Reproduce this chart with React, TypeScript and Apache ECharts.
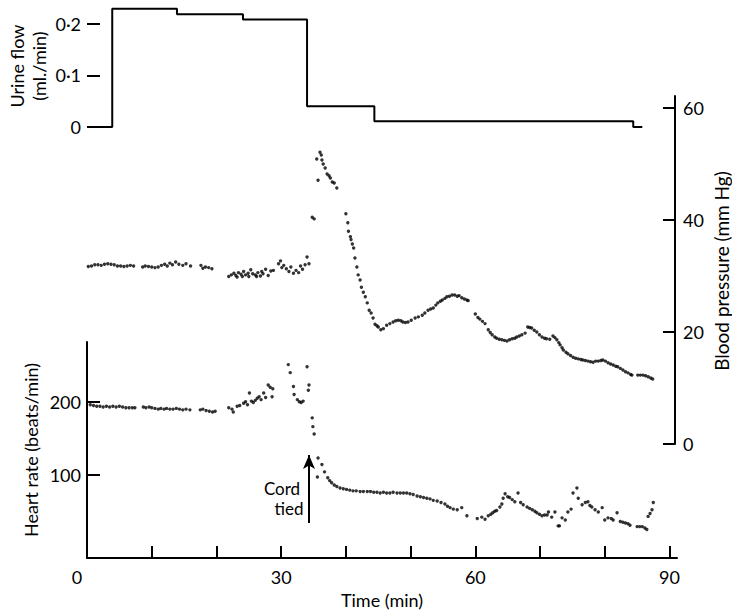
import React, { useEffect, useRef } from "react";
import * as echarts from "echarts";

// Urine flow (ml./min): step boundaries (min) and flow in each period
const urineEdges = [3.9, 13.9, 24.1, 34.0, 44.4, 84.4];
const urineFlow = [0.229, 0.218, 0.208, 0.04, 0.011];
const urineBaseEnd = 85.8;
const urineTicks = [0, 0.1, 0.2];

// Blood pressure (mm Hg) vs time (min)
const bloodPressure: [number, number][] = [
  [0.2, 31.7], [0.7, 31.8], [1.2, 32.0], [1.7, 32.0], [2.2, 31.9], [2.7, 32.1], [3.2, 32.2], [3.7, 32.1],
  [4.2, 32.0], [4.7, 31.8], [5.2, 31.8], [5.7, 31.7], [6.2, 31.8], [6.7, 31.9], [7.2, 31.8],
  [8.6, 31.6], [9.0, 31.8], [9.5, 31.7], [10.0, 31.6], [10.5, 31.5], [11.0, 31.6], [11.5, 31.9], [12.0, 32.1],
  [12.4, 31.8], [12.8, 32.3], [13.2, 32.0], [13.7, 32.5], [14.2, 32.1], [14.8, 31.9], [15.3, 32.2], [16.0, 31.8],
  [17.6, 31.9], [17.9, 31.4], [18.3, 31.6], [18.8, 31.5], [19.3, 31.3],
  [21.9, 29.9], [22.3, 30.2], [22.7, 30.5], [23.0, 30.1], [23.2, 29.8], [23.4, 30.6], [23.8, 30.3], [24.0, 29.9],
  [24.2, 30.8], [24.5, 30.2], [24.9, 30.5], [25.0, 29.9], [25.3, 31.1], [25.6, 30.4], [26.0, 30.2], [26.2, 29.9],
  [26.4, 30.6], [26.8, 30.0], [27.0, 30.8], [27.2, 30.4], [27.6, 31.2], [28.0, 30.1], [28.4, 30.9], [28.8, 31.0],
  [29.6, 32.2], [29.9, 32.7], [30.1, 31.5], [30.4, 31.9], [30.8, 31.3], [31.2, 30.8], [31.5, 31.6], [31.9, 30.5],
  [32.3, 31.0], [32.7, 30.6], [33.0, 31.8], [33.3, 31.2], [33.7, 32.0], [34.0, 33.4], [34.3, 32.2],
  [34.8, 40.5], [35.1, 40.2], [35.5, 50.9], [35.7, 47.1], [36.0, 52.1], [36.2, 51.6], [36.3, 50.7], [36.5, 50.0],
  [36.8, 49.3], [37.1, 48.2], [37.4, 47.9], [37.6, 47.5], [37.9, 46.8], [38.2, 46.6], [38.6, 45.7],
  [40.0, 41.1], [40.3, 39.5], [40.4, 38.0], [40.7, 37.0], [40.8, 36.5], [41.0, 35.7], [41.2, 35.0], [41.4, 33.2],
  [41.7, 31.6], [41.9, 30.2], [42.2, 29.3], [42.4, 28.0], [42.7, 27.1], [43.0, 26.3], [43.3, 25.2], [43.6, 23.9],
  [43.9, 23.4], [44.2, 22.5], [44.5, 21.4], [44.8, 21.1], [45.0, 20.9], [45.4, 20.4], [45.8, 20.6], [46.3, 21.2],
  [46.8, 21.5], [47.3, 21.8], [47.7, 22.0], [48.1, 22.1], [48.5, 22.0], [48.8, 21.8], [49.2, 21.7], [49.6, 21.8],
  [50.1, 22.1], [50.7, 22.5], [51.2, 22.7], [51.8, 23.0], [52.2, 23.4], [52.7, 23.9], [53.1, 24.1], [53.5, 24.3],
  [53.9, 24.8], [54.2, 25.2], [54.6, 25.5], [54.9, 25.7], [55.3, 26.0], [55.6, 26.3], [56.0, 26.4], [56.4, 26.6],
  [56.8, 26.6], [57.2, 26.4], [57.5, 26.5], [57.9, 26.1], [58.3, 25.9], [58.7, 25.7], [58.9, 25.6],
  [60.0, 23.2], [60.4, 22.6], [60.7, 22.3], [61.1, 21.9], [61.5, 21.5], [62.0, 20.4], [62.3, 19.9], [62.6, 19.5],
  [63.0, 19.1], [63.3, 18.9], [63.7, 18.7], [64.1, 18.6], [64.5, 18.5], [64.9, 18.4], [65.3, 18.6], [65.7, 18.8],
  [66.1, 18.9], [66.4, 19.1], [66.8, 19.3], [67.2, 19.5], [67.7, 19.8], [68.1, 20.9], [68.4, 20.8], [68.7, 20.7],
  [69.1, 20.3], [69.5, 20.0], [69.9, 19.5], [70.3, 19.1], [70.7, 18.9], [71.0, 18.8], [71.5, 18.7], [72.0, 19.3],
  [72.3, 19.0], [72.6, 18.6], [72.9, 18.1], [73.1, 17.7], [73.4, 17.2], [73.6, 16.8], [74.0, 16.4], [74.3, 16.1],
  [74.7, 15.8], [75.1, 15.5], [75.5, 15.3], [75.9, 15.2], [76.3, 15.1], [76.6, 15.0], [77.0, 14.9], [77.4, 14.8],
  [77.8, 14.7], [78.2, 14.6], [78.6, 14.8], [79.0, 14.8], [79.4, 14.9], [79.7, 15.0], [80.1, 14.8], [80.5, 14.5],
  [80.9, 14.3], [81.3, 14.1], [81.7, 13.9], [82.0, 13.8], [82.4, 13.5], [82.8, 13.2], [83.2, 12.9], [83.6, 12.7],
  [84.0, 12.4], [84.2, 12.3],
  [85.1, 12.3], [85.5, 12.3], [85.9, 12.3], [86.3, 12.2], [86.7, 12.0], [87.1, 11.8], [87.4, 11.6],
];

// Heart rate (beats/min) vs time (min)
const heartRate: [number, number][] = [
  [0.5, 196], [1.0, 195], [1.5, 194], [2.0, 194], [2.5, 193], [3.0, 194], [3.5, 193], [4.0, 194], [4.5, 193],
  [5.0, 194], [5.5, 193], [6.0, 192], [6.5, 192], [7.0, 192], [7.4, 192],
  [8.7, 193], [9.1, 192], [9.6, 193], [10.0, 192], [10.5, 191], [11.0, 190], [11.4, 191], [11.9, 190], [12.3, 191],
  [12.8, 190], [13.3, 190], [13.8, 191], [14.3, 190], [14.8, 189], [15.3, 190], [15.9, 189],
  [17.5, 189], [17.9, 190], [18.4, 188], [18.9, 187], [19.4, 186], [19.8, 187],
  [21.9, 192], [22.4, 190], [22.6, 186], [23.2, 194], [23.6, 195], [24.2, 198], [24.5, 200], [24.8, 196],
  [25.1, 212], [25.4, 201], [25.7, 199], [26.0, 202], [26.3, 205], [26.6, 207], [26.9, 203], [27.3, 212],
  [27.6, 206], [28.0, 223], [28.3, 220], [28.6, 207], [28.7, 218],
  [31.1, 251], [31.4, 240], [31.9, 221], [32.0, 210], [32.5, 203], [32.8, 200], [33.1, 199], [33.4, 201],
  [34.0, 248], [34.2, 216], [34.3, 223], [34.8, 178], [34.9, 166], [35.1, 156],
  [35.6, 97], [35.7, 123], [36.3, 114], [36.7, 104], [37.2, 96], [37.5, 92], [37.8, 89], [38.2, 86], [38.6, 84],
  [39.1, 82], [39.6, 81], [40.1, 80], [40.6, 79], [41.1, 78], [41.6, 78], [42.2, 77], [42.7, 77], [43.3, 77],
  [43.8, 77], [44.3, 76], [44.8, 76], [45.3, 75], [45.8, 76], [46.3, 75], [46.8, 75], [47.3, 76], [47.9, 75],
  [48.4, 75], [48.9, 75], [49.4, 75], [49.9, 74], [50.4, 73], [51.0, 71], [51.5, 70], [52.0, 69], [52.5, 68],
  [53.0, 67], [53.5, 65], [54.1, 64], [54.7, 62], [55.3, 60], [55.7, 57], [56.1, 55], [56.6, 53], [57.2, 52],
  [57.9, 55], [58.7, 44],
  [60.3, 40], [61.0, 42], [61.5, 39], [62.0, 44], [62.4, 46], [62.7, 48], [63.0, 50], [63.3, 51], [63.8, 56],
  [64.1, 60], [64.3, 68], [64.6, 74], [65.0, 70], [65.3, 69], [65.7, 66], [66.1, 63], [66.6, 75], [67.0, 62],
  [67.4, 59], [68.0, 56], [68.4, 54], [68.8, 52], [69.2, 50], [69.5, 48], [69.9, 46], [70.3, 44], [70.7, 45],
  [71.1, 45], [71.3, 49], [71.8, 42], [72.3, 49], [72.8, 30], [73.0, 30], [73.4, 41], [73.9, 38], [74.3, 49],
  [74.8, 53], [75.1, 75], [75.7, 82], [75.9, 68], [76.5, 59], [77.0, 62], [77.4, 63], [77.7, 58], [78.0, 56],
  [78.5, 52], [79.0, 49], [79.6, 55], [80.0, 38], [80.5, 41], [81.0, 40], [81.3, 38], [81.9, 48], [82.4, 36],
  [82.8, 35], [83.2, 34], [83.6, 33], [83.9, 31], [85.0, 29], [85.4, 29], [85.8, 29], [86.2, 27], [86.5, 25],
  [86.7, 43], [87.0, 47], [87.3, 52], [87.5, 62],
];

const timeTicks = [0, 10, 20, 30, 40, 50, 60, 70, 80, 90];
const timeLabels = [0, 30, 60, 90];
const hrTicks = [100, 200];
const bpTicks = [0, 20, 40, 60];
const cordTiedTime = 34.3;
const cordArrowFrom = 34;
const cordArrowTo = 127;

const FONT = "Lato";
const INK = "#000";

export default function App() {
  const ref = useRef<HTMLDivElement>(null);

  useEffect(() => {
    document.body.style.margin = "0";
    if (!ref.current) return;
    const chart = echarts.init(ref.current, undefined, { renderer: "svg" });

    const pxPerMin = 6.472;
    const left = 87;
    const wFull = 590;
    const wBP = 588;

    // build urine step path
    const urineData: [number, number][] = [[0, 0], [urineEdges[0], 0]];
    for (let i = 0; i < urineFlow.length; i++) {
      urineData.push([urineEdges[i], urineFlow[i]]);
      urineData.push([urineEdges[i + 1], urineFlow[i]]);
    }
    urineData.push([urineEdges[urineEdges.length - 1], 0]);
    urineData.push([urineBaseEnd, 0]);

    const labelStyle = { fontFamily: FONT, fontSize: 18, color: INK };
    const axisLine = { show: true, onZero: false, lineStyle: { color: INK, width: 2 } };
    const tickStyle = { color: INK, width: 2 };

    chart.setOption({
      animation: false,
      backgroundColor: "#fff",
      grid: [
        { left, top: 3, width: wFull, height: 124 },
        { left, top: 96, width: wBP, height: 348 },
        { left, top: 342, width: wFull, height: 216 },
      ],
      xAxis: [
        { type: "value", gridIndex: 0, min: 0, max: wFull / pxPerMin, show: false },
        { type: "value", gridIndex: 1, min: 0, max: wBP / pxPerMin, show: false },
        {
          type: "value",
          gridIndex: 2,
          min: 0,
          max: wFull / pxPerMin,
          position: "bottom",
          axisLine,
          splitLine: { show: false },
          axisTick: { show: true, inside: true, length: 12, customValues: timeTicks, lineStyle: tickStyle },
          axisLabel: {
            ...labelStyle,
            margin: 10,
            customValues: timeLabels,
            formatter: (v: number) => (v === 0 ? "{z|0}" : String(v)),
            rich: { z: { ...labelStyle, padding: [0, 20, 0, 0] } },
          },
        },
      ],
      yAxis: [
        {
          type: "value",
          gridIndex: 0,
          min: 0,
          max: 0.24,
          axisLine: { show: false, onZero: false },
          splitLine: { show: false },
          axisTick: { show: true, inside: true, length: 13, customValues: urineTicks, lineStyle: tickStyle },
          axisLabel: {
            ...labelStyle,
            margin: 6,
            customValues: urineTicks,
            formatter: (v: number) => (v === 0 ? "0" : v.toFixed(1).replace(".", "·")),
          },
        },
        {
          type: "value",
          gridIndex: 1,
          position: "right",
          min: 0,
          max: 348 / 5.6,
          axisLine,
          splitLine: { show: false },
          axisTick: { show: true, inside: true, length: 12, customValues: bpTicks, lineStyle: tickStyle },
          axisLabel: { ...labelStyle, margin: 8, customValues: bpTicks },
        },
        {
          type: "value",
          gridIndex: 2,
          min: -14,
          max: 282,
          axisLine,
          splitLine: { show: false },
          axisTick: { show: true, inside: true, length: 13, customValues: hrTicks, lineStyle: tickStyle },
          axisLabel: { ...labelStyle, margin: 6, customValues: hrTicks },
        },
      ],
      series: [
        {
          type: "line",
          xAxisIndex: 0,
          yAxisIndex: 0,
          data: urineData,
          showSymbol: false,
          lineStyle: { color: INK, width: 2 },
        },
        {
          type: "scatter",
          xAxisIndex: 1,
          yAxisIndex: 1,
          data: bloodPressure,
          symbolSize: 3.4,
          itemStyle: { color: INK },
        },
        {
          type: "scatter",
          xAxisIndex: 2,
          yAxisIndex: 2,
          data: heartRate,
          symbolSize: 3.4,
          itemStyle: { color: INK },
          markLine: {
            silent: true,
            symbol: ["none", "arrow"],
            symbolSize: [9, 14],
            label: { show: false },
            lineStyle: { color: INK, width: 2, type: "solid" },
            data: [[{ coord: [cordTiedTime, cordArrowFrom] }, { coord: [cordTiedTime, cordArrowTo] }]],
          },
        },
      ],
      graphic: [
        { type: "text", x: 17, y: 66, rotation: Math.PI / 2, style: { text: "Urine flow", font: `18px ${FONT}`, fill: INK, align: "center", verticalAlign: "middle" } },
        { type: "text", x: 39, y: 66, rotation: Math.PI / 2, style: { text: "(ml./min)", font: `18px ${FONT}`, fill: INK, align: "center", verticalAlign: "middle" } },
        { type: "text", x: 31, y: 450, rotation: Math.PI / 2, style: { text: "Heart rate (beats/min)", font: `18px ${FONT}`, fill: INK, align: "center", verticalAlign: "middle" } },
        { type: "text", x: 721, y: 271, rotation: Math.PI / 2, style: { text: "Blood pressure (mm Hg)", font: `19px ${FONT}`, fill: INK, align: "center", verticalAlign: "middle" } },
        { type: "text", x: 382, y: 600, style: { text: "Time (min)", font: `18px ${FONT}`, fill: INK, align: "center", verticalAlign: "middle" } },
        { type: "text", x: 282, y: 488, style: { text: "Cord", font: `17px ${FONT}`, fill: INK, align: "center", verticalAlign: "middle" } },
        { type: "text", x: 289, y: 508, style: { text: "tied", font: `17px ${FONT}`, fill: INK, align: "center", verticalAlign: "middle" } },
      ],
    });

    return () => chart.dispose();
  }, []);

  return <div ref={ref} style={{ width: 732, height: 610 }} />;
}
